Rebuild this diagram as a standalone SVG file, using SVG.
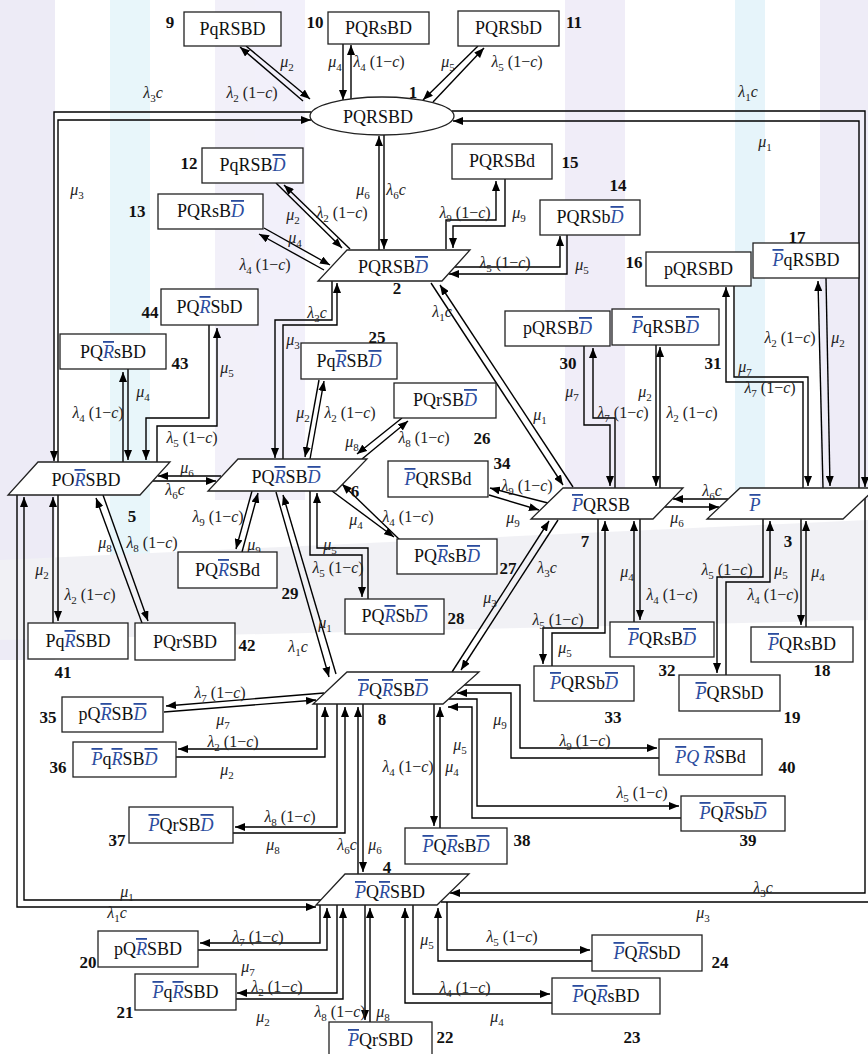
<svg xmlns="http://www.w3.org/2000/svg" width="868" height="1054" viewBox="0 0 868 1054">
<defs>
<marker id="ah" viewBox="0 0 10 8" refX="10" refY="4" markerWidth="10" markerHeight="8" orient="auto" markerUnits="userSpaceOnUse"><path d="M0,0 L10,4 L0,8 Z" fill="#000"/></marker>
</defs>
<style>
.bx{fill:#fff;stroke:#222;stroke-width:1.3}
.t{font-family:"Liberation Serif","Times New Roman",serif;font-size:18px;text-anchor:middle;fill:#111}
.o{font-style:italic;text-decoration:overline;fill:#2b4c9e}
.i{font-style:italic;fill:#2b4c9e}
.n{font-family:"Liberation Serif",serif;font-weight:bold;font-size:17px;text-anchor:middle;fill:#111}
.l{font-family:"Liberation Serif",serif;font-size:16px;font-style:italic;text-anchor:middle;fill:#222}
.u{font-style:normal}
.s{font-size:11px;font-style:normal}
.c polyline,.c line{fill:none;stroke:#000;stroke-width:1.4;marker-end:url(#ah)}
</style>
<rect width="868" height="1054" fill="#fff"/>
<g id="bg" opacity="0.5">
<rect x="0" y="0" width="55" height="660" fill="#dcd9ef"/>
<rect x="110" y="0" width="40" height="560" fill="#d3eef7"/>
<rect x="215" y="0" width="90" height="500" fill="#e6e2f5"/>
<rect x="565" y="0" width="60" height="500" fill="#e2ddf3"/>
<rect x="735" y="0" width="30" height="500" fill="#cfeaf6"/>
<rect x="820" y="0" width="48" height="500" fill="#dedaf1"/>
<polygon points="0,560 868,520 868,620 0,640" fill="#e4e4ec"/>
</g>

<g id="connectors" class="c">
<!-- 1-9 -->
<line x1="303" y1="101" x2="240" y2="47"/>
<line x1="246" y1="46" x2="310" y2="99"/>
<!-- 1-10 -->
<line x1="343" y1="44" x2="343" y2="100"/>
<line x1="351" y1="99" x2="351" y2="45"/>
<!-- 1-11 -->
<line x1="478" y1="46" x2="423" y2="100"/>
<line x1="433" y1="102" x2="484" y2="48"/>
<!-- 1-2 -->
<line x1="379" y1="250" x2="379" y2="136"/>
<line x1="384" y1="135" x2="384" y2="249"/>
<!-- 1-5 -->
<polyline points="311,112 54,112 54,461"/>
<polyline points="58,462 58,120 311,120"/>
<!-- 1-3 -->
<polyline points="452,111 865,111 865,487"/>
<polyline points="859,488 859,121 453,121"/>
<!-- 2-12 -->
<line x1="350" y1="249" x2="284" y2="185"/>
<line x1="276" y1="183" x2="342" y2="248"/>
<!-- 2-13 -->
<line x1="324" y1="270" x2="259" y2="234"/>
<line x1="264" y1="228" x2="330" y2="265"/>
<!-- 2-15 -->
<polyline points="446,249 446,220 496,220 496,181"/>
<polyline points="505,179 505,226 453,226 453,248"/>
<!-- 2-14 -->
<polyline points="455,267 560,267 560,236"/>
<polyline points="567,235 567,274 449,274"/>
<!-- 2-6 -->
<polyline points="332,281 332,320 275,320 275,458"/>
<polyline points="283,459 283,325 337,325 337,283"/>
<!-- 2-7 -->
<line x1="431" y1="283" x2="563" y2="485"/>
<line x1="573" y1="487" x2="440" y2="285"/>
<!-- 3-16 -->
<polyline points="803,488 803,382 726,382 726,287"/>
<polyline points="734,286 734,377 808,377 808,486"/>
<!-- 3-17 -->
<line x1="823" y1="488" x2="818" y2="281"/>
<line x1="826" y1="278" x2="830" y2="486"/>
<!-- 3-18 -->
<line x1="801" y1="519" x2="801" y2="625"/>
<line x1="806" y1="627" x2="806" y2="521"/>
<!-- 3-19 -->
<polyline points="763,519 763,577 717,577 717,673"/>
<polyline points="726,675 726,582 770,582 770,521"/>
<!-- 3-7 -->
<line x1="728" y1="499" x2="673" y2="499"/>
<line x1="665" y1="507" x2="719" y2="507"/>
<!-- 7-30 -->
<polyline points="584,346 584,425 610,425 610,486"/>
<polyline points="615,488 615,418 593,418 593,348"/>
<!-- 7-31 -->
<line x1="656" y1="345" x2="656" y2="486"/>
<line x1="660" y1="488" x2="660" y2="347"/>
<!-- 7-32 -->
<line x1="634" y1="622" x2="634" y2="521"/>
<line x1="640" y1="519" x2="640" y2="620"/>
<!-- 7-33 -->
<polyline points="598,519 598,628 543,628 543,664"/>
<polyline points="552,666 552,633 605,633 605,521"/>
<!-- 7-34 -->
<line x1="548" y1="503" x2="490" y2="488"/>
<line x1="489" y1="495" x2="539" y2="510"/>
<!-- 7-8 -->
<line x1="452" y1="672" x2="549" y2="521"/>
<line x1="558" y1="520" x2="461" y2="670"/>
<!-- 5-6 -->
<line x1="221" y1="476" x2="158" y2="476"/>
<line x1="153" y1="481" x2="216" y2="481"/>
<!-- 5-43 -->
<line x1="123" y1="462" x2="123" y2="372"/>
<line x1="128" y1="369" x2="128" y2="460"/>
<!-- 5-44 -->
<polyline points="157,462 157,426 217,426 217,328"/>
<polyline points="209,325 209,418 146,418 146,460"/>
<!-- 5-41 -->
<line x1="53" y1="623" x2="53" y2="497"/>
<line x1="58" y1="495" x2="58" y2="621"/>
<!-- 5-42 -->
<line x1="142" y1="623" x2="96" y2="498"/>
<line x1="103" y1="495" x2="148" y2="621"/>
<!-- 5-4 -->
<polyline points="17,495 17,907 316,907"/>
<polyline points="322,900 24,900 24,497"/>
<!-- 6-25 -->
<line x1="319" y1="380" x2="305" y2="457"/>
<line x1="310" y1="459" x2="324" y2="381"/>
<!-- 6-26 -->
<line x1="362" y1="459" x2="408" y2="421"/>
<line x1="402" y1="418" x2="357" y2="454"/>
<!-- 6-27 -->
<line x1="332" y1="491" x2="394" y2="537"/>
<line x1="401" y1="541" x2="342" y2="484"/>
<!-- 6-28 -->
<polyline points="310,491 310,555 362,555 362,597"/>
<polyline points="368,599 368,548 317,548 317,493"/>
<!-- 6-29 -->
<line x1="252" y1="491" x2="236" y2="549"/>
<line x1="242" y1="552" x2="258" y2="493"/>
<!-- 6-8 -->
<line x1="276" y1="492" x2="329" y2="677"/>
<line x1="336" y1="674" x2="283" y2="495"/>
<!-- 8-35 -->
<line x1="324" y1="693" x2="166" y2="706"/>
<line x1="164" y1="712" x2="316" y2="700"/>
<!-- 8-36 -->
<polyline points="317,704 317,749 178,749"/>
<polyline points="176,757 325,757 325,707"/>
<!-- 8-37 -->
<polyline points="337,704 337,827 235,827"/>
<polyline points="233,833 345,833 345,707"/>
<!-- 8-4 -->
<line x1="358" y1="874" x2="358" y2="707"/>
<line x1="363" y1="704" x2="363" y2="872"/>
<!-- 8-38 -->
<line x1="434" y1="704" x2="434" y2="826"/>
<line x1="440" y1="828" x2="440" y2="707"/>
<!-- 8-39 -->
<polyline points="449,699 477,699 477,806 679,806"/>
<polyline points="681,818 472,818 472,707 448,707"/>
<!-- 8-40 -->
<polyline points="464,685 520,685 520,748 657,748"/>
<polyline points="659,758 511,758 511,693 457,693"/>
<!-- 3-4 -->
<polyline points="865,498 865,893 450,893"/>
<polyline points="441,902 873,902 873,492"/>
<!-- 4-20 -->
<polyline points="320,904 320,943 200,943"/>
<polyline points="198,950 327,950 327,908"/>
<!-- 4-21 -->
<polyline points="337,905 337,993 237,993"/>
<polyline points="236,999 343,999 343,908"/>
<!-- 4-22 -->
<line x1="365" y1="905" x2="365" y2="1020"/>
<line x1="370" y1="1022" x2="370" y2="908"/>
<!-- 4-23 -->
<polyline points="413,905 413,994 550,994"/>
<polyline points="552,1003 405,1003 405,908"/>
<!-- 4-24 -->
<polyline points="447,902 447,950 590,950"/>
<polyline points="592,961 438,961 438,908"/>
</g>

<g id="edge-labels">
<text class="l" x="287" y="67">μ<tspan class="s" dy="4">2</tspan></text>
<text class="l" x="252" y="98">λ<tspan class="s" dy="4">2</tspan><tspan class="u" dy="-4"> (1−</tspan>c<tspan class="u">)</tspan></text>
<text class="l" x="335" y="67">μ<tspan class="s" dy="4">4</tspan></text>
<text class="l" x="379" y="67">λ<tspan class="s" dy="4">4</tspan><tspan class="u" dy="-4"> (1−</tspan>c<tspan class="u">)</tspan></text>
<text class="l" x="448" y="67">μ<tspan class="s" dy="4">5</tspan></text>
<text class="l" x="517" y="67">λ<tspan class="s" dy="4">5</tspan><tspan class="u" dy="-4"> (1−</tspan>c<tspan class="u">)</tspan></text>
<text class="l" x="153" y="98">λ<tspan class="s" dy="4">3</tspan><tspan dy="-4">c</tspan></text>
<text class="l" x="77" y="195">μ<tspan class="s" dy="4">3</tspan></text>
<text class="l" x="748" y="97">λ<tspan class="s" dy="4">1</tspan><tspan dy="-4">c</tspan></text>
<text class="l" x="765" y="147">μ<tspan class="s" dy="4">1</tspan></text>
<text class="l" x="363" y="195">μ<tspan class="s" dy="4">6</tspan></text>
<text class="l" x="396" y="195">λ<tspan class="s" dy="4">6</tspan><tspan dy="-4">c</tspan></text>
<text class="l" x="293" y="220">μ<tspan class="s" dy="4">2</tspan></text>
<text class="l" x="342" y="218">λ<tspan class="s" dy="4">2</tspan><tspan class="u" dy="-4"> (1−</tspan>c<tspan class="u">)</tspan></text>
<text class="l" x="295" y="243">μ<tspan class="s" dy="4">4</tspan></text>
<text class="l" x="265" y="270">λ<tspan class="s" dy="4">4</tspan><tspan class="u" dy="-4"> (1−</tspan>c<tspan class="u">)</tspan></text>
<text class="l" x="465" y="218">λ<tspan class="s" dy="4">9</tspan><tspan class="u" dy="-4"> (1−</tspan>c<tspan class="u">)</tspan></text>
<text class="l" x="519" y="218">μ<tspan class="s" dy="4">9</tspan></text>
<text class="l" x="505" y="268">λ<tspan class="s" dy="4">5</tspan><tspan class="u" dy="-4"> (1−</tspan>c<tspan class="u">)</tspan></text>
<text class="l" x="582" y="270">μ<tspan class="s" dy="4">5</tspan></text>
<text class="l" x="317" y="318">λ<tspan class="s" dy="4">3</tspan><tspan dy="-4">c</tspan></text>
<text class="l" x="293" y="345">μ<tspan class="s" dy="4">3</tspan></text>
<text class="l" x="442" y="317">λ<tspan class="s" dy="4">1</tspan><tspan dy="-4">c</tspan></text>
<text class="l" x="540" y="420">μ<tspan class="s" dy="4">1</tspan></text>
<text class="l" x="745" y="372">μ<tspan class="s" dy="4">7</tspan></text>
<text class="l" x="770" y="393">λ<tspan class="s" dy="4">7</tspan><tspan class="u" dy="-4"> (1−</tspan>c<tspan class="u">)</tspan></text>
<text class="l" x="790" y="343">λ<tspan class="s" dy="4">2</tspan><tspan class="u" dy="-4"> (1−</tspan>c<tspan class="u">)</tspan></text>
<text class="l" x="838" y="343">μ<tspan class="s" dy="4">2</tspan></text>
<text class="l" x="818" y="577">μ<tspan class="s" dy="4">4</tspan></text>
<text class="l" x="773" y="600">λ<tspan class="s" dy="4">4</tspan><tspan class="u" dy="-4"> (1−</tspan>c<tspan class="u">)</tspan></text>
<text class="l" x="727" y="575">λ<tspan class="s" dy="4">5</tspan><tspan class="u" dy="-4"> (1−</tspan>c<tspan class="u">)</tspan></text>
<text class="l" x="781" y="575">μ<tspan class="s" dy="4">5</tspan></text>
<text class="l" x="712" y="496">λ<tspan class="s" dy="4">6</tspan><tspan dy="-4">c</tspan></text>
<text class="l" x="677" y="523">μ<tspan class="s" dy="4">6</tspan></text>
<text class="l" x="572" y="397">μ<tspan class="s" dy="4">7</tspan></text>
<text class="l" x="623" y="418">λ<tspan class="s" dy="4">7</tspan><tspan class="u" dy="-4"> (1−</tspan>c<tspan class="u">)</tspan></text>
<text class="l" x="645" y="397">μ<tspan class="s" dy="4">2</tspan></text>
<text class="l" x="692" y="418">λ<tspan class="s" dy="4">2</tspan><tspan class="u" dy="-4"> (1−</tspan>c<tspan class="u">)</tspan></text>
<text class="l" x="627" y="577">μ<tspan class="s" dy="4">4</tspan></text>
<text class="l" x="672" y="600">λ<tspan class="s" dy="4">4</tspan><tspan class="u" dy="-4"> (1−</tspan>c<tspan class="u">)</tspan></text>
<text class="l" x="558" y="625">λ<tspan class="s" dy="4">5</tspan><tspan class="u" dy="-4"> (1−</tspan>c<tspan class="u">)</tspan></text>
<text class="l" x="565" y="653">μ<tspan class="s" dy="4">5</tspan></text>
<text class="l" x="527" y="491">λ<tspan class="s" dy="4">9</tspan><tspan class="u" dy="-4"> (1−</tspan>c<tspan class="u">)</tspan></text>
<text class="l" x="513" y="523">μ<tspan class="s" dy="4">9</tspan></text>
<text class="l" x="547" y="573">λ<tspan class="s" dy="4">3</tspan><tspan dy="-4">c</tspan></text>
<text class="l" x="490" y="603">μ<tspan class="s" dy="4">3</tspan></text>
<text class="l" x="187" y="473">μ<tspan class="s" dy="4">6</tspan></text>
<text class="l" x="175" y="495">λ<tspan class="s" dy="4">6</tspan><tspan dy="-4">c</tspan></text>
<text class="l" x="98" y="418">λ<tspan class="s" dy="4">4</tspan><tspan class="u" dy="-4"> (1−</tspan>c<tspan class="u">)</tspan></text>
<text class="l" x="143" y="397">μ<tspan class="s" dy="4">4</tspan></text>
<text class="l" x="227" y="373">μ<tspan class="s" dy="4">5</tspan></text>
<text class="l" x="192" y="443">λ<tspan class="s" dy="4">5</tspan><tspan class="u" dy="-4"> (1−</tspan>c<tspan class="u">)</tspan></text>
<text class="l" x="42" y="575">μ<tspan class="s" dy="4">2</tspan></text>
<text class="l" x="90" y="600">λ<tspan class="s" dy="4">2</tspan><tspan class="u" dy="-4"> (1−</tspan>c<tspan class="u">)</tspan></text>
<text class="l" x="105" y="548">μ<tspan class="s" dy="4">8</tspan></text>
<text class="l" x="152" y="548">λ<tspan class="s" dy="4">8</tspan><tspan class="u" dy="-4"> (1−</tspan>c<tspan class="u">)</tspan></text>
<text class="l" x="127" y="897">μ<tspan class="s" dy="4">1</tspan></text>
<text class="l" x="117" y="918">λ<tspan class="s" dy="4">1</tspan><tspan dy="-4">c</tspan></text>
<text class="l" x="303" y="418">μ<tspan class="s" dy="4">2</tspan></text>
<text class="l" x="350" y="418">λ<tspan class="s" dy="4">2</tspan><tspan class="u" dy="-4"> (1−</tspan>c<tspan class="u">)</tspan></text>
<text class="l" x="352" y="447">μ<tspan class="s" dy="4">8</tspan></text>
<text class="l" x="424" y="443">λ<tspan class="s" dy="4">8</tspan><tspan class="u" dy="-4"> (1−</tspan>c<tspan class="u">)</tspan></text>
<text class="l" x="356" y="525">μ<tspan class="s" dy="4">4</tspan></text>
<text class="l" x="408" y="522">λ<tspan class="s" dy="4">4</tspan><tspan class="u" dy="-4"> (1−</tspan>c<tspan class="u">)</tspan></text>
<text class="l" x="330" y="550">μ<tspan class="s" dy="4">5</tspan></text>
<text class="l" x="338" y="573">λ<tspan class="s" dy="4">5</tspan><tspan class="u" dy="-4"> (1−</tspan>c<tspan class="u">)</tspan></text>
<text class="l" x="218" y="522">λ<tspan class="s" dy="4">9</tspan><tspan class="u" dy="-4"> (1−</tspan>c<tspan class="u">)</tspan></text>
<text class="l" x="254" y="550">μ<tspan class="s" dy="4">9</tspan></text>
<text class="l" x="325" y="628">μ<tspan class="s" dy="4">1</tspan></text>
<text class="l" x="298" y="652">λ<tspan class="s" dy="4">1</tspan><tspan dy="-4">c</tspan></text>
<text class="l" x="220" y="698">λ<tspan class="s" dy="4">7</tspan><tspan class="u" dy="-4"> (1−</tspan>c<tspan class="u">)</tspan></text>
<text class="l" x="223" y="725">μ<tspan class="s" dy="4">7</tspan></text>
<text class="l" x="233" y="747">λ<tspan class="s" dy="4">2</tspan><tspan class="u" dy="-4"> (1−</tspan>c<tspan class="u">)</tspan></text>
<text class="l" x="227" y="775">μ<tspan class="s" dy="4">2</tspan></text>
<text class="l" x="290" y="822">λ<tspan class="s" dy="4">8</tspan><tspan class="u" dy="-4"> (1−</tspan>c<tspan class="u">)</tspan></text>
<text class="l" x="273" y="850">μ<tspan class="s" dy="4">8</tspan></text>
<text class="l" x="347" y="850">λ<tspan class="s" dy="4">6</tspan><tspan dy="-4">c</tspan></text>
<text class="l" x="375" y="850">μ<tspan class="s" dy="4">6</tspan></text>
<text class="l" x="408" y="772">λ<tspan class="s" dy="4">4</tspan><tspan class="u" dy="-4"> (1−</tspan>c<tspan class="u">)</tspan></text>
<text class="l" x="452" y="772">μ<tspan class="s" dy="4">4</tspan></text>
<text class="l" x="460" y="750">μ<tspan class="s" dy="4">5</tspan></text>
<text class="l" x="642" y="798">λ<tspan class="s" dy="4">5</tspan><tspan class="u" dy="-4"> (1−</tspan>c<tspan class="u">)</tspan></text>
<text class="l" x="500" y="725">μ<tspan class="s" dy="4">9</tspan></text>
<text class="l" x="585" y="746">λ<tspan class="s" dy="4">9</tspan><tspan class="u" dy="-4"> (1−</tspan>c<tspan class="u">)</tspan></text>
<text class="l" x="763" y="893">λ<tspan class="s" dy="4">3</tspan><tspan dy="-4">c</tspan></text>
<text class="l" x="703" y="918">μ<tspan class="s" dy="4">3</tspan></text>
<text class="l" x="258" y="942">λ<tspan class="s" dy="4">7</tspan><tspan class="u" dy="-4"> (1−</tspan>c<tspan class="u">)</tspan></text>
<text class="l" x="248" y="972">μ<tspan class="s" dy="4">7</tspan></text>
<text class="l" x="277" y="992">λ<tspan class="s" dy="4">2</tspan><tspan class="u" dy="-4"> (1−</tspan>c<tspan class="u">)</tspan></text>
<text class="l" x="263" y="1022">μ<tspan class="s" dy="4">2</tspan></text>
<text class="l" x="340" y="1017">λ<tspan class="s" dy="4">8</tspan><tspan class="u" dy="-4"> (1−</tspan>c<tspan class="u">)</tspan></text>
<text class="l" x="383" y="1017">μ<tspan class="s" dy="4">8</tspan></text>
<text class="l" x="465" y="993">λ<tspan class="s" dy="4">4</tspan><tspan class="u" dy="-4"> (1−</tspan>c<tspan class="u">)</tspan></text>
<text class="l" x="497" y="1022">μ<tspan class="s" dy="4">4</tspan></text>
<text class="l" x="427" y="945">μ<tspan class="s" dy="4">5</tspan></text>
<text class="l" x="512" y="942">λ<tspan class="s" dy="4">5</tspan><tspan class="u" dy="-4"> (1−</tspan>c<tspan class="u">)</tspan></text>
</g>

<g id="n1"><ellipse cx="382" cy="116" rx="72" ry="19" class="bx"/><text class="t" x="378" y="123">PQRSBD</text><text class="n" x="413" y="98" font-size="22">1</text></g>
<g id="n2"><polygon class="bx" points="347,250 470,250 442,281 318,281"/><text class="t" x="393" y="273">PQRSB<tspan class="o">D</tspan></text><text class="n" x="397" y="294">2</text></g>
<g id="n3"><polygon class="bx" points="740,488 876,488 843,519 707,519"/><text class="t" x="755" y="511"><tspan class="o">P</tspan></text><text class="n" x="788" y="547">3</text></g>
<g id="n4"><polygon class="bx" points="345,874 469,874 437,905 316,905"/><text class="t" x="390" y="898"><tspan class="o">P</tspan>Q<tspan class="o">R</tspan>SBD</text><text class="n" x="387" y="873">4</text></g>
<g id="n5"><polygon class="bx" points="38,462 170,462 140,495 8,495"/><text class="t" x="86" y="486">PO<tspan class="o">R</tspan>SBD</text><text class="n" x="132" y="522">5</text></g>
<g id="n6"><polygon class="bx" points="238,459 367,459 336,491 208,491"/><text class="t" x="286" y="483">PQ<tspan class="o">R</tspan>SB<tspan class="o">D</tspan></text><text class="n" x="355" y="497">6</text></g>
<g id="n7"><polygon class="bx" points="563,488 683,488 653,519 531,519"/><text class="t" x="601" y="511"><tspan class="o">P</tspan>QRSB</text><text class="n" x="585" y="547">7</text></g>
<g id="n8"><polygon class="bx" points="347,672 479,672 443,704 313,704"/><text class="t" x="393" y="696"><tspan class="o">P</tspan>Q<tspan class="o">R</tspan>SB<tspan class="o">D</tspan></text><text class="n" x="382" y="725">8</text></g>
<g id="n9"><rect class="bx" x="184" y="12" width="97" height="34"/><text class="t" x="232.5" y="35">PqRSBD</text><text class="n" x="170" y="28">9</text></g>
<g id="n10"><rect class="bx" x="328" y="12" width="101" height="32"/><text class="t" x="378.5" y="34">PQRsBD</text><text class="n" x="315" y="28">10</text></g>
<g id="n11"><rect class="bx" x="458" y="11" width="101" height="35"/><text class="t" x="508.5" y="34">PQRSbD</text><text class="n" x="574" y="28">11</text></g>
<g id="n12"><rect class="bx" x="202" y="148" width="101" height="35"/><text class="t" x="252.5" y="171">PqRSB<tspan class="o">D</tspan></text><text class="n" x="189" y="169">12</text></g>
<g id="n13"><rect class="bx" x="158" y="194" width="105" height="35"/><text class="t" x="210.5" y="217">PQRsB<tspan class="o">D</tspan></text><text class="n" x="137" y="217">13</text></g>
<g id="n14"><rect class="bx" x="540" y="200" width="100" height="35"/><text class="t" x="590" y="223">PQRSb<tspan class="o">D</tspan></text><text class="n" x="618" y="191">14</text></g>
<g id="n15"><rect class="bx" x="452" y="144" width="100" height="35"/><text class="t" x="502" y="167">PQRSBd</text><text class="n" x="570" y="168">15</text></g>
<g id="n16"><rect class="bx" x="646" y="252" width="105" height="34"/><text class="t" x="698.5" y="275">pQRSBD</text><text class="n" x="634" y="268">16</text></g>
<g id="n17"><rect class="bx" x="753" y="243" width="106" height="35"/><text class="t" x="806" y="266"><tspan class="o">P</tspan>qRSBD</text><text class="n" x="797" y="243">17</text></g>
<g id="n18"><rect class="bx" x="751" y="627" width="102" height="35"/><text class="t" x="802" y="650"><tspan class="o">P</tspan>QRsBD</text><text class="n" x="822" y="676">18</text></g>
<g id="n19"><rect class="bx" x="679" y="675" width="101" height="36"/><text class="t" x="729.5" y="699"><tspan class="o">P</tspan>QRSbD</text><text class="n" x="792" y="723">19</text></g>
<g id="n20"><rect class="bx" x="98" y="931" width="100" height="36"/><text class="t" x="148" y="955">pQ<tspan class="o">R</tspan>SBD</text><text class="n" x="88" y="968">20</text></g>
<g id="n21"><rect class="bx" x="135" y="974" width="101" height="36"/><text class="t" x="185.5" y="998"><tspan class="o">P</tspan>q<tspan class="o">R</tspan>SBD</text><text class="n" x="125" y="1018">21</text></g>
<g id="n22"><rect class="bx" x="329" y="1022" width="103" height="40"/><text class="t" x="380.5" y="1046"><tspan class="o">P</tspan>QrSBD</text><text class="n" x="445" y="1043">22</text></g>
<g id="n23"><rect class="bx" x="552" y="978" width="108" height="36"/><text class="t" x="606" y="1002"><tspan class="o">P</tspan>Q<tspan class="o">R</tspan>sBD</text><text class="n" x="632" y="1043">23</text></g>
<g id="n24"><rect class="bx" x="592" y="935" width="110" height="36"/><text class="t" x="647" y="959"><tspan class="o">P</tspan>Q<tspan class="o">R</tspan>SbD</text><text class="n" x="720" y="968">24</text></g>
<g id="n25"><rect class="bx" x="301" y="343" width="96" height="36"/><text class="t" x="349" y="367">Pq<tspan class="o">R</tspan>SB<tspan class="o">D</tspan></text><text class="n" x="377" y="343">25</text></g>
<g id="n26"><rect class="bx" x="394" y="383" width="102" height="35"/><text class="t" x="445" y="406">PQrSB<tspan class="o">D</tspan></text><text class="n" x="482" y="444">26</text></g>
<g id="n27"><rect class="bx" x="397" y="539" width="100" height="35"/><text class="t" x="447" y="562">PQ<tspan class="o">R</tspan>sB<tspan class="o">D</tspan></text><text class="n" x="508" y="574">27</text></g>
<g id="n28"><rect class="bx" x="345" y="599" width="99" height="35"/><text class="t" x="394.5" y="622">PQ<tspan class="o">R</tspan>Sb<tspan class="o">D</tspan></text><text class="n" x="456" y="624">28</text></g>
<g id="n29"><rect class="bx" x="178" y="552" width="99" height="36"/><text class="t" x="227.5" y="576">PQ<tspan class="o">R</tspan>SBd</text><text class="n" x="290" y="599">29</text></g>
<g id="n30"><rect class="bx" x="505" y="311" width="105" height="35"/><text class="t" x="557.5" y="334">pQRSB<tspan class="o">D</tspan></text><text class="n" x="568" y="369">30</text></g>
<g id="n31"><rect class="bx" x="612" y="309" width="107" height="36"/><text class="t" x="665.5" y="333"><tspan class="o">P</tspan>qRSB<tspan class="o">D</tspan></text><text class="n" x="713" y="369">31</text></g>
<g id="n32"><rect class="bx" x="610" y="622" width="104" height="35"/><text class="t" x="662" y="645"><tspan class="o">P</tspan>QRsB<tspan class="o">D</tspan></text><text class="n" x="667" y="676">32</text></g>
<g id="n33"><rect class="bx" x="534" y="666" width="100" height="35"/><text class="t" x="584" y="689"><tspan class="o">P</tspan>QRSb<tspan class="o">D</tspan></text><text class="n" x="613" y="723">33</text></g>
<g id="n34"><rect class="bx" x="388" y="461" width="100" height="36"/><text class="t" x="438" y="485"><tspan class="o">P</tspan>QRSBd</text><text class="n" x="502" y="469">34</text></g>
<g id="n35"><rect class="bx" x="62" y="697" width="101" height="35"/><text class="t" x="112.5" y="720">pQ<tspan class="o">R</tspan>SB<tspan class="o">D</tspan></text><text class="n" x="48" y="723">35</text></g>
<g id="n36"><rect class="bx" x="73" y="742" width="103" height="35"/><text class="t" x="124.5" y="765"><tspan class="o">P</tspan>q<tspan class="o">R</tspan>SB<tspan class="o">D</tspan></text><text class="n" x="58" y="773">36</text></g>
<g id="n37"><rect class="bx" x="129" y="807" width="104" height="36"/><text class="t" x="181" y="831"><tspan class="o">P</tspan>QrSB<tspan class="o">D</tspan></text><text class="n" x="117" y="846">37</text></g>
<g id="n38"><rect class="bx" x="405" y="828" width="102" height="36"/><text class="t" x="456" y="852"><tspan class="o">P</tspan>Q<tspan class="o">R</tspan>sB<tspan class="o">D</tspan></text><text class="n" x="522" y="846">38</text></g>
<g id="n39"><rect class="bx" x="681" y="796" width="104" height="35"/><text class="t" x="733" y="819"><tspan class="o">P</tspan>Q<tspan class="o">R</tspan>Sb<tspan class="o">D</tspan></text><text class="n" x="748" y="846">39</text></g>
<g id="n40"><rect class="bx" x="659" y="739" width="103" height="36"/><text class="t" x="710.5" y="763"><tspan class="o">P</tspan><tspan class="i">Q</tspan> <tspan class="o">R</tspan>SBd</text><text class="n" x="787" y="773">40</text></g>
<g id="n41"><rect class="bx" x="28" y="623" width="100" height="36"/><text class="t" x="78" y="647">Pq<tspan class="o">R</tspan>SBD</text><text class="n" x="63" y="678">41</text></g>
<g id="n42"><rect class="bx" x="135" y="623" width="100" height="37"/><text class="t" x="185" y="648">PQrSBD</text><text class="n" x="247" y="651">42</text></g>
<g id="n43"><rect class="bx" x="60" y="334" width="106" height="35"/><text class="t" x="113" y="358">PQ<tspan class="o">R</tspan>sBD</text><text class="n" x="180" y="369">43</text></g>
<g id="n44"><rect class="bx" x="161" y="289" width="97" height="36"/><text class="t" x="209.5" y="313">PQ<tspan class="o">R</tspan>SbD</text><text class="n" x="150" y="318">44</text></g>
</svg>
